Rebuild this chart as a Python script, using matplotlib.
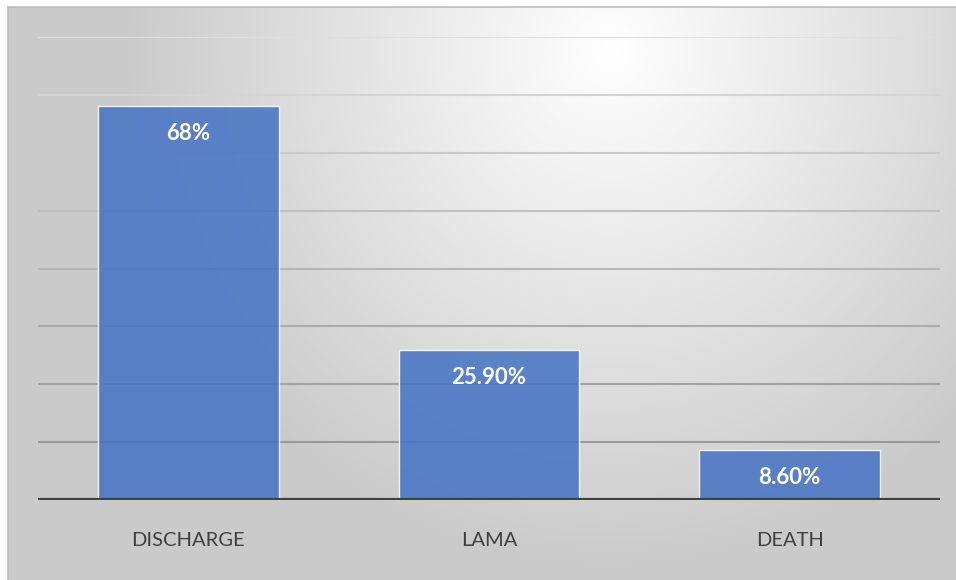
import numpy as np
import matplotlib
matplotlib.use('Agg')
import matplotlib.pyplot as plt

plt.rcParams['font.family'] = ['Lato', 'DejaVu Sans']

# Data
categories = ['DISCHARGE', 'LAMA', 'DEATH']
values = [68.0, 25.9, 8.6]
value_labels = ['68%', '25.90%', '8.60%']

W, H = 956, 580
fig = plt.figure(figsize=(W / 100, H / 100), dpi=100)
fig.patch.set_facecolor('white')

# Background panel with a soft radial gradient (white near top centre, grey at edges)
bx0, by0 = 8, 7
bg = fig.add_axes([bx0 / W, 0, (W - bx0) / W, (H - by0) / H], zorder=0)
px = np.arange(bx0, W) + 0.5
py = np.arange(by0, H) + 0.5
XX, YY = np.meshgrid(px, py)
t = np.sqrt(((XX - 610) / 600.0) ** 2 + ((YY - 50) / 640.0) ** 2)
t = np.clip(t / 0.8, 0, 1)
shade = 255 - (255 - 203) * t
img = np.dstack([shade, shade, shade]) / 255.0
bg.imshow(img, aspect='auto', extent=[0, 1, 0, 1], interpolation='bilinear')
bg.set_xticks([])
bg.set_yticks([])
for side in ['right', 'bottom']:
    bg.spines[side].set_visible(False)
for side in ['top', 'left']:
    bg.spines[side].set_color('#bdbdbd')
    bg.spines[side].set_linewidth(1.2)

# Plot area
ax = fig.add_axes([38 / W, 80 / H, 902 / W, 463 / H], zorder=1)
ax.set_facecolor('none')
ax.set_xlim(-0.5, 2.5)
ax.set_ylim(0, 80)

# Gridlines: lighter near the top, darker towards the bottom (as seen over the gradient)
grid_levels = np.arange(10, 81, 10)
for g in grid_levels:
    f = g / 80.0
    c = 0.56 + (0.87 - 0.56) * f
    ax.axhline(g, color=(c, c, c), linewidth=1.5, zorder=1)
ax.axhline(0, color='#404040', linewidth=3.0, zorder=4)

x = np.arange(len(categories))
bars = ax.bar(x, values, width=0.6, color='#4472C4', alpha=0.85,
              edgecolor=(1, 1, 1, 0.6), linewidth=1.0, zorder=3)

for xi, v, lab in zip(x, values, value_labels):
    ax.annotate(lab, xy=(xi, v), xytext=(0, -19.5), textcoords='offset points',
                ha='center', va='center', fontsize=16, fontweight='bold',
                color='white', zorder=5)

ax.set_xticks(x)
ax.set_xticklabels(categories, fontsize=14.5, color='#404040')
ax.tick_params(axis='x', length=0, pad=23)
ax.set_yticks([])
for s in ax.spines.values():
    s.set_visible(False)

fig.savefig('out.png', dpi=100, facecolor='white')
